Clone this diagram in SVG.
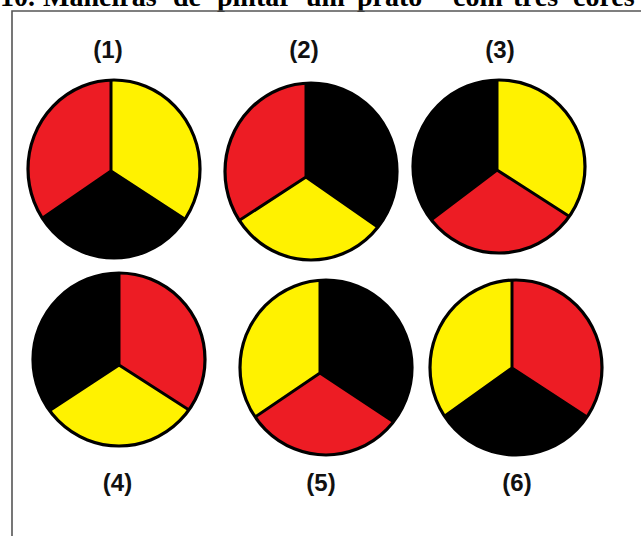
<svg xmlns="http://www.w3.org/2000/svg" width="641" height="536" viewBox="0 0 641 536">
<style>
.title{font-family:"Liberation Serif","Times New Roman",serif;font-weight:bold;font-size:28px;fill:#000}
.lbl{font-family:"Liberation Sans",Arial,sans-serif;font-weight:bold;font-size:24px;fill:#111;text-anchor:middle}
.r{fill:#ED1C24}.y{fill:#FFF200}.k{fill:#000}
.div{stroke:#000;stroke-width:3;fill:none;stroke-linecap:round}
.rim{stroke:#000;stroke-width:3.2;fill:none}
.frame{stroke:#555;stroke-width:1.6;fill:none}
</style>
<defs>
<clipPath id="c1"><ellipse cx="114" cy="169" rx="86" ry="89"/></clipPath>
<clipPath id="c2"><ellipse cx="311" cy="171.5" rx="86" ry="88.5"/></clipPath>
<clipPath id="c3"><ellipse cx="499" cy="166.5" rx="86" ry="86.5"/></clipPath>
<clipPath id="c4"><ellipse cx="119" cy="359.5" rx="86" ry="86.5"/></clipPath>
<clipPath id="c5"><ellipse cx="326" cy="367.5" rx="86" ry="87.5"/></clipPath>
<clipPath id="c6"><ellipse cx="516" cy="367.5" rx="86" ry="87.5"/></clipPath>
</defs>
<rect width="641" height="536" fill="#fff"/>
<text class="title" y="6"><tspan x="0">10.</tspan><tspan x="43">Maneiras</tspan><tspan x="173">de</tspan><tspan x="217">pintar</tspan><tspan x="306">um</tspan><tspan x="357">prato</tspan><tspan x="453">com</tspan><tspan x="513">três</tspan><tspan x="573">cores</tspan></text>
<path class="frame" d="M12,536 V11 H641"/>

<g id="plate1">
<g clip-path="url(#c1)">
<rect class="k" x="0" y="60" width="240" height="220"/>
<polygon class="r" points="111,171 111,70 -81,70 -81,303"/>
<polygon class="y" points="111,171 111,70 327,70 327,312"/>
<path class="div" d="M111,171 V70 M111,171 L-81,303 M111,171 L327,312"/>
</g>
<ellipse class="rim" cx="114" cy="169" rx="86" ry="89"/>
<text class="lbl" x="108" y="58">(1)</text>
</g>

<g id="plate2">
<g clip-path="url(#c2)">
<rect class="y" x="200" y="60" width="240" height="220"/>
<polygon class="r" points="306,177 306,70 117,70 117,300"/>
<polygon class="k" points="306,177 306,70 513,70 513,321"/>
<path class="div" d="M306,177 V70 M306,177 L117,300 M306,177 L513,321"/>
</g>
<ellipse class="rim" cx="311" cy="171.5" rx="86" ry="88.5"/>
<text class="lbl" x="304" y="58">(2)</text>
</g>

<g id="plate3">
<g clip-path="url(#c3)">
<rect class="r" x="400" y="60" width="240" height="220"/>
<polygon class="k" points="497,170 497,70 311,70 311,311"/>
<polygon class="y" points="497,170 497,70 707,70 707,305"/>
<path class="div" d="M497,170 V70 M497,170 L311,311 M497,170 L707,305"/>
</g>
<ellipse class="rim" cx="499" cy="166.5" rx="86" ry="86.5"/>
<text class="lbl" x="500" y="58">(3)</text>
</g>

<g id="plate4">
<g clip-path="url(#c4)">
<rect class="y" x="20" y="260" width="240" height="220"/>
<polygon class="k" points="119,365 119,262 -73,262 -73,491"/>
<polygon class="r" points="119,365 119,262 320,262 320,494"/>
<path class="div" d="M119,365 V262 M119,365 L-73,491 M119,365 L320,494"/>
</g>
<ellipse class="rim" cx="119" cy="359.5" rx="86" ry="86.5"/>
<text class="lbl" x="117.5" y="491">(4)</text>
</g>

<g id="plate5">
<g clip-path="url(#c5)">
<rect class="r" x="220" y="260" width="240" height="220"/>
<polygon class="y" points="320,373 320,270 134,270 134,499"/>
<polygon class="k" points="320,373 320,270 533,270 533,514"/>
<path class="div" d="M320,373 V270 M320,373 L134,499 M320,373 L533,514"/>
</g>
<ellipse class="rim" cx="326" cy="367.5" rx="86" ry="87.5"/>
<text class="lbl" x="321" y="491">(5)</text>
</g>

<g id="plate6">
<g clip-path="url(#c6)">
<rect class="k" x="410" y="260" width="240" height="220"/>
<polygon class="y" points="512,368 512,270 323,270 323,503"/>
<polygon class="r" points="512,368 512,270 728,270 728,509"/>
<path class="div" d="M512,368 V270 M512,368 L323,503 M512,368 L728,509"/>
</g>
<ellipse class="rim" cx="516" cy="367.5" rx="86" ry="87.5"/>
<text class="lbl" x="517" y="491">(6)</text>
</g>
</svg>
